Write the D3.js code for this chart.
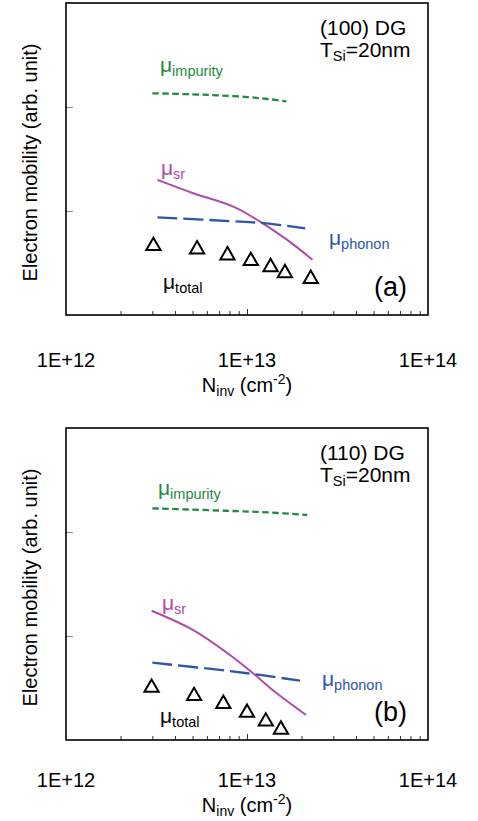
<!DOCTYPE html>
<html>
<head>
<meta charset="utf-8">
<script src="https://cdn.jsdelivr.net/npm/d3@7"></script>
<style>
  body { margin: 0; background: #fff; }
  svg { display: block; font-family: "Liberation Sans", Arial, sans-serif; }
</style>
</head>
<body>
<svg></svg>
<script>
const width = 478;
const height = 821;

// x axis (log), shared by both panels
const xDomain = [1e12, 1e14];
const xLabelValues = [1e12, 1e13, 1e14];
const xLabels = ["1E+12", "1E+13", "1E+14"];
// y axis (log, arbitrary units, no labels)
const yDomain = [1, 1000];
const yTicks = [10, 100];

// panel (a) : (100) DG
const impNA = [3e12, 5e12, 7e12, 1e13, 1.3e13, 1.65e13];
const impA = [135.5, 132.4, 129.4, 124.7, 119.4, 113.5];
const srNA = [3.2e12, 5e12, 8.4e12, 1.18e13, 1.66e13, 2.3e13];
const srA = [19.9, 14.9, 11.0, 7.9, 5.3, 3.4];
const phNA = [3.2e12, 8e12, 1.28e13, 2.1e13];
const phA = [8.7, 8.0, 7.6, 6.8];
const totNA = [3.04e12, 5.3e12, 7.8e12, 1.05e13, 1.35e13, 1.62e13, 2.25e13];
const totA = [4.61, 4.28, 3.75, 3.31, 2.89, 2.53, 2.23];

// panel (b) : (110) DG
const impNB = [3e12, 7.7e12, 1.3e13, 2.15e13];
const impB = [169, 160, 154.5, 145.7];
const srNB = [2.97e12, 5.05e12, 8.05e12, 1.08e13, 1.46e13, 2.12e13];
const srB = [17.5, 11.4, 6.57, 4.38, 2.81, 1.74];
const phNB = [3e12, 7.7e12, 1.18e13, 1.96e13];
const phB = [5.54, 4.64, 4.22, 3.72];
const totNB = [2.97e12, 5.1e12, 7.4e12, 1.0e13, 1.27e13, 1.54e13];
const totB = [3.18, 2.65, 2.23, 1.83, 1.51, 1.26];

const green = "#1f8a42";
const purple = "#b24aa8";
const blue = "#2d56a8";

const svg = d3.select("svg")
    .attr("width", width)
    .attr("height", height);

const left = 66, right = 428, panelH = 312;

const x = d3.scaleLog().domain(xDomain).range([left, right]);

// minor tick values 2..9 in each decade
const minorTicks = [];
[1e12, 1e13].forEach(d => { for (let k = 2; k <= 9; k++) minorTicks.push(k * d); });

const panels = [
    {
        top: 3, orient: "(100) DG", tag: "(a)",
        imp: [impNA, impA], sr: [srNA, srA], ph: [phNA, phA], tot: [totNA, totA],
        lab: { imp: [160, 69], sr: [161, 172], ph: [329, 242], tot: [163, 286] },
        tickLabelDy: 51.5
    },
    {
        top: 428, orient: "(110) DG", tag: "(b)",
        imp: [impNB, impB], sr: [srNB, srB], ph: [phNB, phB], tot: [totNB, totB],
        lab: { imp: [158, 67], sr: [162, 182], ph: [322, 258], tot: [160, 295] },
        tickLabelDy: 46.5
    }
];

panels.forEach(drawPanel);

function muLabel(g, px, py, sub, color) {
    const t = g.append("text")
        .attr("x", px).attr("y", py)
        .attr("fill", color)
        .attr("font-size", "21px");
    t.append("tspan").text("\u03bc");
    t.append("tspan").attr("font-size", "14.5px").attr("dy", 4).text(sub);
}

function drawPanel(p) {
    const bottom = p.top + panelH;
    const y = d3.scaleLog().domain(yDomain).range([bottom, p.top]);
    const g = svg.append("g");

    // y ticks (inward, gray)
    g.append("g")
        .attr("transform", `translate(${left},0)`)
        .call(d3.axisLeft(y).tickValues(yTicks).tickSize(-7).tickFormat(""))
        .call(a => a.select(".domain").remove())
        .call(a => a.selectAll("line").attr("stroke", "#888").attr("stroke-width", 1));

    // x ticks (inward)
    g.append("g")
        .attr("transform", `translate(0,${bottom})`)
        .call(d3.axisBottom(x).tickValues(minorTicks).tickSize(-4).tickFormat(""))
        .call(a => a.select(".domain").remove())
        .call(a => a.selectAll("line").attr("stroke", "#333").attr("stroke-width", 1));
    g.append("g")
        .attr("transform", `translate(0,${bottom})`)
        .call(d3.axisBottom(x).tickValues([1e13]).tickSize(-6).tickFormat(""))
        .call(a => a.select(".domain").remove())
        .call(a => a.selectAll("line").attr("stroke", "#333").attr("stroke-width", 1));

    // frame
    g.append("rect")
        .attr("x", left).attr("y", p.top)
        .attr("width", right - left).attr("height", panelH)
        .attr("fill", "none").attr("stroke", "#000").attr("stroke-width", 1.6);

    // x tick labels
    g.selectAll(".xl").data(xLabelValues).enter().append("text")
        .attr("x", d => x(d))
        .attr("y", bottom + p.tickLabelDy)
        .attr("text-anchor", "middle")
        .attr("font-size", "20px")
        .text((d, i) => xLabels[i]);

    // x title
    const xt = g.append("text")
        .attr("x", 247).attr("y", bottom + p.tickLabelDy + 25)
        .attr("text-anchor", "middle")
        .attr("font-size", "20px");
    xt.append("tspan").text("N");
    xt.append("tspan").attr("font-size", "14px").attr("dy", 4).text("inv");
    xt.append("tspan").attr("dy", -4).text(" (cm");
    xt.append("tspan").attr("font-size", "14px").attr("dy", -8).text("-2");
    xt.append("tspan").attr("dy", 8).text(")");

    // y title
    g.append("text")
        .attr("transform", `translate(37,${p.top + 159.5}) rotate(-90)`)
        .attr("text-anchor", "middle")
        .attr("font-size", "20px")
        .text("Electron mobility (arb. unit)");

    const line = d3.line()
        .x(d => x(d[0]))
        .y(d => y(d[1]))
        .curve(d3.curveCatmullRom.alpha(0.5));

    const pairs = s => s[0].map((n, i) => [n, s[1][i]]);

    g.append("path").datum(pairs(p.imp))
        .attr("d", line).attr("fill", "none")
        .attr("stroke", green).attr("stroke-width", 2.3)
        .attr("stroke-dasharray", "6.5,3.5");
    g.append("path").datum(pairs(p.sr))
        .attr("d", line).attr("fill", "none")
        .attr("stroke", purple).attr("stroke-width", 2);
    g.append("path").datum(pairs(p.ph))
        .attr("d", line).attr("fill", "none")
        .attr("stroke", blue).attr("stroke-width", 2.3)
        .attr("stroke-dasharray", "20,6");

    // total mobility symbols
    g.selectAll(".tri").data(pairs(p.tot)).enter().append("path")
        .attr("transform", d => `translate(${x(d[0])},${y(d[1])})`)
        .attr("d", d3.symbol(d3.symbolTriangle, 88))
        .attr("fill", "none").attr("stroke", "#000").attr("stroke-width", 2);

    // annotations
    const yy = v => p.top + v;
    g.append("text").attr("x", 320).attr("y", yy(32)).attr("font-size", "21px").text(p.orient);
    const ts = g.append("text").attr("x", 320).attr("y", yy(54)).attr("font-size", "21px");
    ts.append("tspan").text("T");
    ts.append("tspan").attr("font-size", "14.5px").attr("dy", 4).text("Si");
    ts.append("tspan").attr("dy", -4).text("=20nm");

    muLabel(g, p.lab.imp[0], yy(p.lab.imp[1]), "impurity", green);
    muLabel(g, p.lab.sr[0], yy(p.lab.sr[1]), "sr", purple);
    muLabel(g, p.lab.ph[0], yy(p.lab.ph[1]), "phonon", blue);
    muLabel(g, p.lab.tot[0], yy(p.lab.tot[1]), "total", "#000");

    g.append("text").attr("x", 374).attr("y", yy(293))
        .attr("font-size", "27px").text(p.tag);
}
</script>
</body>
</html>
